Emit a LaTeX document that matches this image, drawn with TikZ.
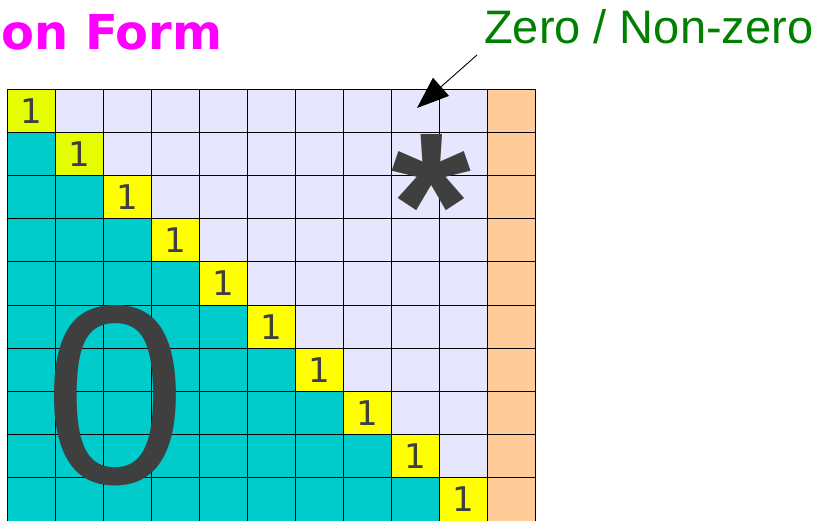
\documentclass[tikz,border=0pt]{standalone}
\usepackage{fontspec}
\setmainfont{DejaVu Sans}
\newfontfamily\libsans{Liberation Sans}
\usetikzlibrary{arrows.meta}
\definecolor{cyanc}{HTML}{00CCCC}
\definecolor{lav}{HTML}{E6E6FF}
\definecolor{orng}{HTML}{FFCC99}
\definecolor{yel}{HTML}{FFFF00}
\definecolor{limec}{HTML}{E6FF00}
\definecolor{txt}{HTML}{3F3F3F}
\definecolor{grn}{HTML}{008000}
\definecolor{magc}{HTML}{FF00FF}
\begin{document}
\begin{tikzpicture}[x=1pt,y=-1pt,
  gridline/.style={black,line width=1pt},
  digit/.style={text=txt,inner sep=0,font=\fontsize{34}{34}\selectfont},
  bigsym/.style={text=txt,inner sep=0,font=\libsans\fontsize{255}{255}\selectfont},
  pointer/.style={black,line width=0.9pt,-{Triangle[length=32pt,width=24pt]}}]
\useasboundingbox (0,0) rectangle (825,520);
\clip (0,0) rectangle (825,520);
\def\xo{7.5}\def\cw{47.98}\def\yo{89}\def\rh{43.2}
% background cells
\fill[lav] (\xo,\yo) rectangle ({\xo+10*\cw},{\yo+10*\rh});
\fill[orng] ({\xo+10*\cw},\yo) rectangle ({\xo+11*\cw},{\yo+10*\rh});
\foreach \i in {1,...,9}
  \fill[cyanc] (\xo,{\yo+\i*\rh}) rectangle ({\xo+\i*\cw},{\yo+(\i+1)*\rh});
\foreach \i/\c in {0/limec,1/limec,2/yel,3/yel,4/yel,5/yel,6/yel,7/yel,8/yel,9/yel}
  \fill[\c] ({\xo+\i*\cw},{\yo+\i*\rh}) rectangle ({\xo+(\i+1)*\cw},{\yo+(\i+1)*\rh});
% grid
\foreach \j in {0,...,11}
  \draw[gridline] ({\xo+\j*\cw},\yo) -- ({\xo+\j*\cw},{\yo+10*\rh});
\foreach \i in {0,...,10}
  \draw[gridline] (\xo,{\yo+\i*\rh}) -- ({\xo+11*\cw},{\yo+\i*\rh});
% diagonal ones
\foreach \i in {0,...,9}
  \node[digit,anchor=base] (one\i) at ({\xo+(\i+0.5)*\cw},{\yo+(\i+0.5)*\rh+12.5}) {1};
% big symbols
\node[bigsym,anchor=base] (zero) at (115.5,483) {0};
\node[bigsym,anchor=base,font=\libsans\bfseries\fontsize{205}{205}\selectfont] (star) at (431.5,275) {*};
% title and label
\node[anchor=base west,inner sep=0,text=magc,font=\bfseries\fontsize{48}{48}\selectfont] (title) at (1,49) {on Form};
\node[anchor=base west,inner sep=0,text=grn,font=\libsans\fontsize{47}{47}\selectfont] (zlabel) at (484,43) {Zero / Non-zero};
\coordinate (atail) at (477,55);
\coordinate (ahead) at (417,108);
\draw[pointer] (atail) -- (ahead);
\end{tikzpicture}
\end{document}
